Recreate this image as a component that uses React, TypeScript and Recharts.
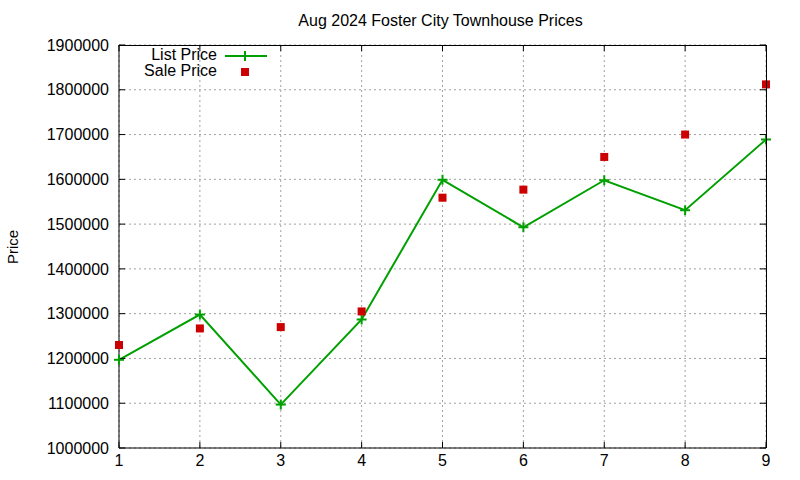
import React from 'react';
import { ComposedChart, Line, XAxis, YAxis, CartesianGrid } from 'recharts';

const months = [1, 2, 3, 4, 5, 6, 7, 8, 9];
const listPrice = [1197000, 1298000, 1097000, 1287000, 1599000, 1493000, 1598000, 1531000, 1689000];
const salePrice = [1230000, 1267000, 1270000, 1305000, 1559000, 1577000, 1650000, 1700000, 1812000];
const yTicks = [1000000, 1100000, 1200000, 1300000, 1400000, 1500000, 1600000, 1700000, 1800000, 1900000];
const xTicks = months;
const title = 'Aug 2024 Foster City Townhouse Prices';
const yLabel = 'Price';
const seriesNames = ['List Price', 'Sale Price'];

const data = months.map((m, i) => ({ month: m, list: listPrice[i], sale: salePrice[i] }));

const FONT = '"Liberation Sans", Arial, sans-serif';
const GREEN = '#00a000';
const RED = '#cc0000';

const PLOT = { left: 119, top: 45, right: 766, bottom: 448 };

const PlusDot = (props: any) => {
  const { cx, cy, index } = props;
  if (cx == null || cy == null) return <g key={`p${index}`} />;
  return (
    <g key={`p${index}`}>
      <line x1={cx - 5} x2={cx + 5} y1={cy} y2={cy} stroke={GREEN} strokeWidth={2} />
      <line x1={cx} x2={cx} y1={cy - 5} y2={cy + 5} stroke={GREEN} strokeWidth={2} />
    </g>
  );
};

const SquareDot = (props: any) => {
  const { cx, cy, index } = props;
  if (cx == null || cy == null) return <g key={`s${index}`} />;
  return <rect key={`s${index}`} x={cx - 4} y={cy - 4} width={8} height={8} fill={RED} />;
};

export default function App() {
  const tickStyle = { fill: '#000', fontSize: 16, fontFamily: FONT };
  const axisLine = { stroke: '#000', strokeWidth: 1 };
  const pw = PLOT.right - PLOT.left;
  const ph = PLOT.bottom - PLOT.top;
  const xMin = xTicks[0];
  const xMax = xTicks[xTicks.length - 1];
  const yMin = yTicks[0];
  const yMax = yTicks[yTicks.length - 1];
  return (
    <div style={{ position: 'absolute', left: 0, top: 0, width: 800, height: 480, background: '#fff', fontFamily: FONT }}>
      <ComposedChart width={800} height={480} data={data} margin={{ top: 25, right: 14, bottom: 0, left: 0 }}>
        <CartesianGrid stroke="#a0a0a0" strokeDasharray="2 3" strokeWidth={1} />
        <XAxis
          dataKey="month"
          type="number"
          domain={[1, 9]}
          ticks={xTicks}
          interval={0}
          height={32}
          axisLine={axisLine}
          tickLine={axisLine}
          tickSize={-6}
          tickMargin={13}
          tick={tickStyle}
        />
        <XAxis
          xAxisId="top"
          orientation="top"
          dataKey="month"
          type="number"
          domain={[1, 9]}
          ticks={xTicks}
          height={20}
          axisLine={false}
          tickLine={false}
          tick={false}
        />
        <YAxis
          type="number"
          domain={[1000000, 1900000]}
          ticks={yTicks}
          interval={0}
          width={119}
          axisLine={axisLine}
          tickLine={axisLine}
          tickSize={-6}
          tickMargin={16}
          tick={tickStyle}
        />
        <YAxis
          yAxisId="right"
          orientation="right"
          type="number"
          domain={[1000000, 1900000]}
          ticks={yTicks}
          width={20}
          axisLine={false}
          tickLine={false}
          tick={false}
        />
        <Line
          dataKey="list"
          name={seriesNames[0]}
          stroke={GREEN}
          strokeWidth={2}
          dot={PlusDot}
          activeDot={false}
          isAnimationActive={false}
        />
        <Line
          dataKey="sale"
          xAxisId="top"
          yAxisId="right"
          name={seriesNames[1]}
          stroke="none"
          strokeWidth={0}
          dot={SquareDot}
          activeDot={false}
          isAnimationActive={false}
        />
      </ComposedChart>
      <svg
        width={800}
        height={480}
        style={{ position: 'absolute', left: 0, top: 0, pointerEvents: 'none' }}
        fontFamily={FONT}
      >
        <line x1={PLOT.left} x2={PLOT.right + 0.5} y1={PLOT.top + 0.5} y2={PLOT.top + 0.5} stroke="#000" strokeWidth={1} />
        <line x1={PLOT.right + 0.5} x2={PLOT.right + 0.5} y1={PLOT.top} y2={PLOT.bottom} stroke="#000" strokeWidth={1} />
        {xTicks.map((t) => {
          const x = PLOT.left + ((t - xMin) / (xMax - xMin)) * pw;
          return <line key={`tx${t}`} x1={x} x2={x} y1={PLOT.top} y2={PLOT.top + 6} stroke="#000" strokeWidth={1} />;
        })}
        {yTicks.map((t) => {
          const y = PLOT.bottom - ((t - yMin) / (yMax - yMin)) * ph;
          return <line key={`ty${t}`} x1={PLOT.right - 6} x2={PLOT.right} y1={y} y2={y} stroke="#000" strokeWidth={1} />;
        })}
        <text x={440.5} y={26} textAnchor="middle" fontSize={16} fill="#000">{title}</text>
        <text transform="translate(18,247) rotate(-90)" textAnchor="middle" fontSize={15} fill="#000">{yLabel}</text>
        <text x={217} y={60} textAnchor="end" fontSize={16} fill="#000">{seriesNames[0]}</text>
        <line x1={225} x2={267} y1={56} y2={56} stroke={GREEN} strokeWidth={2} />
        <line x1={240} x2={250} y1={56} y2={56} stroke={GREEN} strokeWidth={2} />
        <line x1={245} x2={245} y1={51} y2={61} stroke={GREEN} strokeWidth={2} />
        <text x={217} y={76} textAnchor="end" fontSize={16} fill="#000">{seriesNames[1]}</text>
        <rect x={241} y={68} width={8} height={8} fill={RED} />
      </svg>
    </div>
  );
}
